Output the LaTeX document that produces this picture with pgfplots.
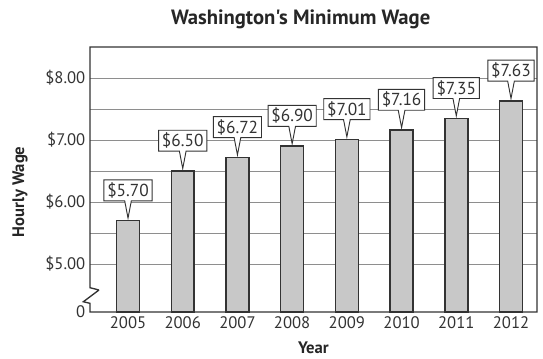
\documentclass[border=0pt]{standalone}
\usepackage{pgfplots}
\pgfplotsset{compat=1.18}
\usetikzlibrary{shapes.callouts}
\usepackage{fontspec}
\setmainfont{PT Sans}
\newfontfamily\titlefont{PT Sans}
\definecolor{barfill}{HTML}{C8C8C8}
\definecolor{edge}{HTML}{333333}
\definecolor{gridc}{HTML}{8E8E8E}
\definecolor{txt}{HTML}{333333}
\begin{document}
\begin{tikzpicture}
\path[use as bounding box] (-67.5pt,-34.5pt) rectangle (339.75pt,234pt);
\begin{axis}[
  at={(0,0)}, anchor=south west,
  scale only axis, width=335.25pt, height=198.75pt,
  xmin=-0.695, xmax=7.475, ymin=4.226, ymax=8.5,
  axis line style={draw=none},
  xtick={0,1,2,3,4,5,6,7},
  xticklabels={2005,2006,2007,2008,2009,2010,2011,2012},
  ytick={5,6,7,8}, yticklabels={\$5.00,\$6.00,\$7.00,\$8.00},
  minor ytick={5.5,6.5,7.5},
  extra y ticks={4.226}, extra y tick labels={0},
  extra y tick style={grid=none},
  ymajorgrids, yminorgrids,
  major grid style={gridc, line width=0.6pt},
  minor grid style={gridc, line width=0.6pt},
  tick style={draw=none},
  tick label style={font=\fontsize{12.5}{14}\selectfont, text=txt},
]
\addplot[ybar, bar width=0.42, fill=barfill, draw=edge, line width=1.1pt,
  point meta=y,
  nodes near coords={\$\pgfmathprintnumber[fixed,fixed zerofill,precision=2,assume math mode=true]{\pgfplotspointmeta}},
  every node near coord/.append style={rectangle callout, draw=edge, fill=white,
    line width=0.7pt, callout relative pointer={(270:13pt)},
    callout pointer width=5pt, anchor=pointer, inner xsep=2.5pt, inner ysep=2pt,
    minimum height=14pt, font=\fontsize{13}{14}\selectfont, text=txt},
] coordinates {
(0,5.70) (1,6.50) (2,6.72) (3,6.90) (4,7.01) (5,7.16) (6,7.35) (7,7.63)
};
\end{axis}
\draw[edge, line width=1pt] (6.75pt,16.5pt) -- (0,18.2pt) -- (0,198.75pt) -- (335.25pt,198.75pt) -- (335.25pt,0) -- (0,0) -- (0,6.5pt) -- (-5pt,7.7pt) -- (6.75pt,16.5pt);
\node[font=\titlefont\bfseries\fontsize{15.5}{17}\selectfont, text=black!85] at (158pt,219.75pt) {Washington's Minimum Wage};
\node[rotate=90, font=\bfseries\fontsize{12.5}{14}\selectfont, text=black!85] at (-52.5pt,90pt) {Hourly Wage};
\node[font=\bfseries\fontsize{12.5}{14}\selectfont, text=black!85] at (167.6pt,-26.8pt) {Year};
\end{tikzpicture}
\end{document}
